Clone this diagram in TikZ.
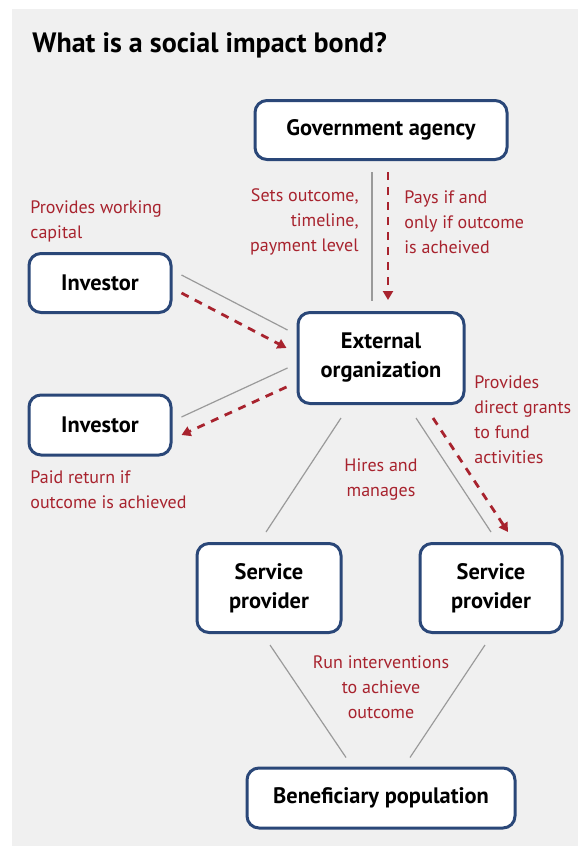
\documentclass[tikz,border=0pt]{standalone}
\usepackage{fontspec}
\setmainfont{PT Sans}
\usepackage{xcolor}
\definecolor{boxNavy}{HTML}{2A4778}
\definecolor{noteRed}{HTML}{A8232E}
\definecolor{panelBg}{HTML}{F0F0F0}
\definecolor{linkGray}{HTML}{9A9A9A}
\usetikzlibrary{arrows.meta,calc,positioning}
\tikzset{%
  roleBox/.style={%
    rectangle,
    rounded corners=6pt,
    draw=boxNavy,
    line width=1.5pt,
    fill=white,
    align=center,
    font=\fontsize{11.2pt}{14.5pt}\selectfont\bfseries
  },
  linkLine/.style={%
    draw=linkGray,
    line width=0.6pt
  },
  fundLine/.style={%
    -{Triangle[length=4.5pt,width=5pt]},
    draw=noteRed,
    line width=1.4pt,
    dash pattern=on 4pt off 3.5pt
  },
  noteText/.style={%
    text=noteRed,
    inner sep=0pt,
    font=\fontsize{9pt}{12.5pt}\selectfont
  }
}

\begin{document}
\begin{tikzpicture}[x=0.5pt,y=-0.5pt]
  \useasboundingbox (0,0) rectangle (581,846);
  \fill[panelBg] (12,9) rectangle (578,846);

  \node[anchor=base west, inner sep=0pt, font=\fontsize{14pt}{16pt}\selectfont\bfseries]
    (title) at (32,52) {What is a social impact bond?};

  % the parties
  \node[roleBox, minimum width=126pt, minimum height=29.5pt] (gov) at (381,130) {Government agency};
  \node[roleBox, minimum width=83pt, minimum height=45.5pt] (ext) at (381,358) {External\\organization};
  \node[roleBox, minimum width=71pt, minimum height=29.5pt] (inv1) at (100,283) {Investor};
  \node[roleBox, minimum width=71pt, minimum height=30pt] (inv2) at (100,425) {Investor};
  \node[roleBox, minimum width=72pt, minimum height=44.5pt] (sp1) at (269,588) {Service\\provider};
  \node[roleBox, minimum width=71pt, minimum height=44.5pt] (sp2) at (491,588) {Service\\provider};
  \node[roleBox, minimum width=134pt, minimum height=30pt] (ben) at (381,798) {Beneficiary population};

  % plain links
  \draw[linkLine] ($(gov.south)+(-9,11)$) -- ($(ext.north)+(-9,-10)$);
  \draw[linkLine] ($(inv1.east)+(9,-8)$) -- ($(ext.west)+(-9,-28)$);
  \draw[linkLine] ($(ext.west)+(-9,10)$) -- ($(inv2.east)+(9,-8)$);
  \draw[linkLine] ($(ext.south)+(-40,13)$) -- ($(sp1.north)+(-3,-10)$);
  \draw[linkLine] ($(ext.south)+(35,13)$) -- ($(sp2.north)+(0,-10)$);
  \draw[linkLine] ($(sp1.south)+(1,11)$) -- ($(ben.north)+(-35,-9)$);
  \draw[linkLine] ($(sp2.south)+(-6,11)$) -- ($(ben.north)+(29,-9)$);

  % money flows
  \draw[fundLine] ($(gov.south)+(7,11)$) -- ($(ext.north)+(7,-11)$);
  \draw[fundLine] ($(inv1.east)+(9,10)$) -- ($(ext.west)+(-10,-10)$);
  \draw[fundLine] ($(ext.west)+(-10,29)$) -- ($(inv2.east)+(9,10)$);
  \draw[fundLine] ($(ext.south)+(52,13)$) -- ($(sp2.north)+(17,-10)$);

  % notes
  \node[noteText, anchor=east, align=right] (setsNote) at (359,222) {Sets outcome,\\timeline,\\payment level};
  \node[noteText, anchor=west, align=left] (paysNote) at (404,222) {Pays if and\\only if outcome\\is acheived};
  \node[noteText, anchor=west, align=left] (capNote) at (30,221) {Provides working\\capital};
  \node[noteText, anchor=west, align=left] (paidNote) at (30,490) {Paid return if\\outcome is achieved};
  \node[noteText, anchor=west, align=left] (grantNote) at (474,420) {Provides\\direct grants\\to fund\\activities};
  \node[noteText, align=center] (hireNote) at (381,480) {Hires and\\manages};
  \node[noteText, align=center] (runNote) at (381,687) {Run interventions\\to achieve\\outcome};
\end{tikzpicture}
\end{document}
